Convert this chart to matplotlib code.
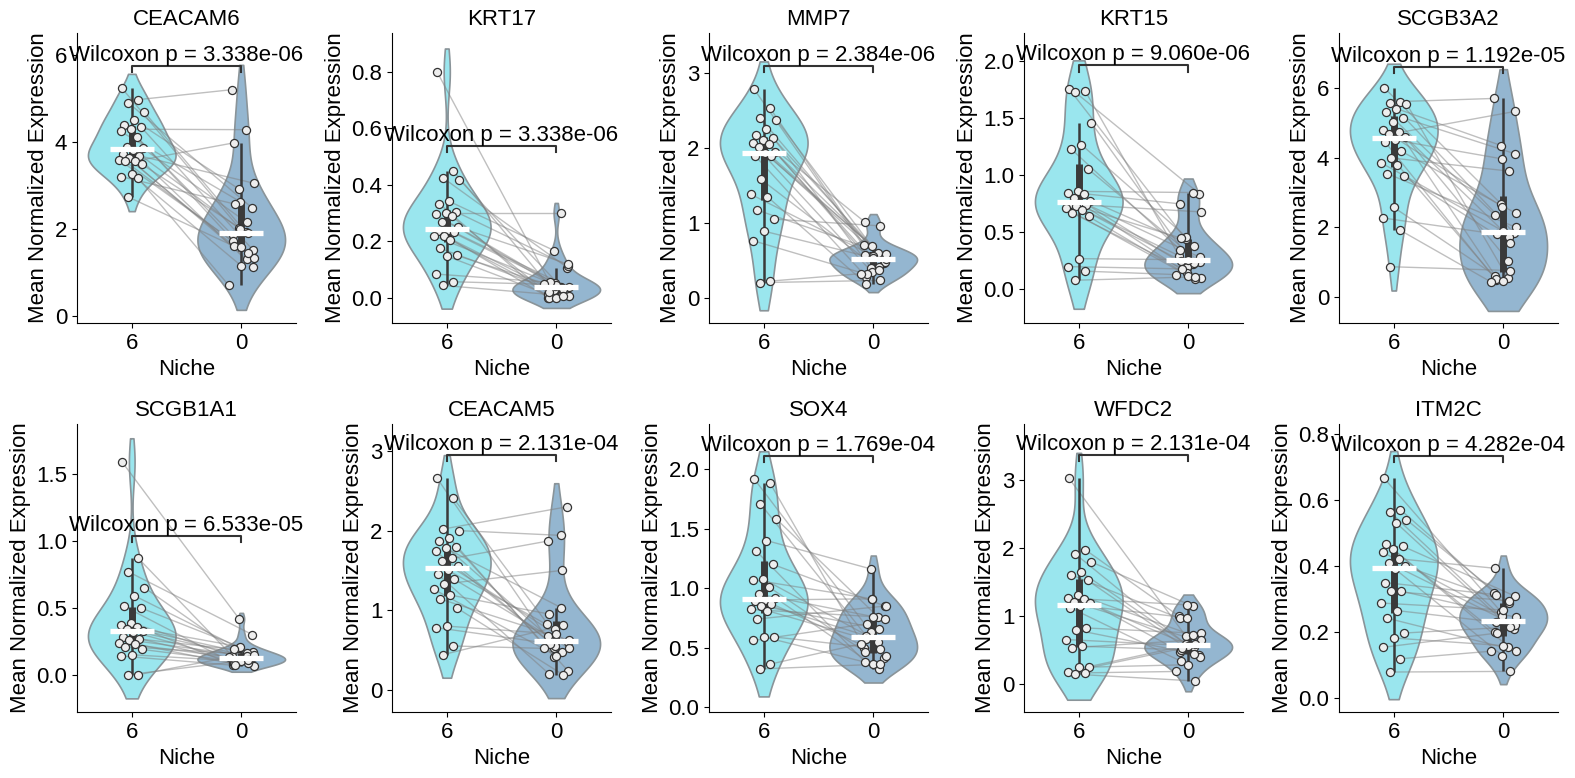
import numpy as np
import matplotlib
matplotlib.use("Agg")
import matplotlib.pyplot as plt
from matplotlib import cbook

plt.rcParams['font.family'] = ['Liberation Sans', 'DejaVu Sans']
plt.rcParams['font.size'] = 16

# ---------------- data ----------------
genes = ["CEACAM6", "KRT17", "MMP7", "KRT15", "SCGB3A2",
         "SCGB1A1", "CEACAM5", "SOX4", "WFDC2", "ITM2C"]
niche_labels = ["6", "0"]
p_labels = ["3.338e-06", "3.338e-06", "2.384e-06", "9.060e-06", "1.192e-05",
            "6.533e-05", "2.131e-04", "1.769e-04", "2.131e-04", "4.282e-04"]

# paired samples: index i in niche-6 array pairs with index i in niche-0 array
ceacam6_n6 = [5.23, 4.97, 4.90, 4.68, 4.50, 4.39, 4.35, 4.29, 4.24, 4.12, 3.89, 3.85,
              3.82, 3.72, 3.68, 3.62, 3.59, 3.56, 3.55, 3.49, 3.26, 3.20, 3.18, 2.74]
ceacam6_n0 = [2.03, 5.20, 2.48, 1.92, 2.91, 1.85, 1.52, 4.28, 2.63, 1.73, 1.13, 2.15,
              1.99, 1.61, 3.05, 1.30, 1.59, 3.98, 1.34, 1.90, 1.15, 2.57, 0.71, 1.45]

krt17_n6 = [0.80, 0.45, 0.424, 0.418, 0.341, 0.333, 0.305, 0.300, 0.296, 0.288, 0.270, 0.250,
            0.240, 0.235, 0.232, 0.220, 0.219, 0.205, 0.175, 0.150, 0.148, 0.084, 0.057, 0.044]
krt17_n0 = [0.027, 0.05, 0.107, 0.04, 0.167, 0.0, 0.114, 0.30, 0.042, 0.015, 0.119, 0.035,
            0.052, 0.0, 0.038, 0.01, 0.045, 0.02, 0.005, 0.03, 0.0, 0.055, 0.048, 0.008]

mmp7_n6 = [2.79, 2.53, 2.40, 2.38, 2.26, 2.18, 2.14, 2.11, 2.07, 2.05, 2.02, 1.95,
           1.93, 1.90, 1.89, 1.58, 1.38, 1.35, 1.17, 1.05, 0.89, 0.76, 0.22, 0.20]
mmp7_n0 = [0.55, 0.70, 0.46, 0.58, 0.39, 1.01, 0.50, 0.60, 0.34, 0.57, 0.48, 0.41,
           0.69, 0.28, 0.52, 0.37, 0.56, 0.18, 0.58, 0.96, 0.53, 0.31, 0.32, 0.23]

krt15_n6 = [1.76, 1.74, 1.73, 1.46, 1.27, 1.23, 1.06, 0.86, 0.85, 0.84, 0.80, 0.78,
            0.76, 0.75, 0.74, 0.73, 0.71, 0.70, 0.67, 0.64, 0.27, 0.20, 0.16, 0.08]
krt15_n0 = [0.44, 0.29, 0.84, 0.22, 0.46, 0.35, 0.24, 0.85, 0.20, 0.75, 0.28, 0.38,
            0.14, 0.45, 0.68, 0.23, 0.12, 0.25, 0.10, 0.09, 0.26, 0.18, 0.13, 0.11]

scgb3a2_n6 = [6.00, 5.60, 5.57, 5.54, 5.40, 5.30, 5.14, 5.02, 4.80, 4.74, 4.66, 4.60,
              4.50, 4.45, 4.18, 3.99, 3.85, 3.80, 3.54, 3.46, 2.58, 2.27, 1.93, 0.88]
scgb3a2_n0 = [2.68, 5.69, 1.84, 0.55, 4.34, 2.36, 4.11, 1.05, 2.60, 0.61, 5.32, 1.74,
              3.96, 0.50, 2.41, 3.61, 1.90, 0.52, 2.00, 1.55, 0.47, 1.81, 0.45, 0.77]

scgb1a1_n6 = [1.59, 0.87, 0.77, 0.65, 0.59, 0.51, 0.50, 0.39, 0.37, 0.36, 0.34, 0.33,
              0.32, 0.28, 0.27, 0.26, 0.24, 0.23, 0.21, 0.19, 0.15, 0.14, 0.00, 0.00]
scgb1a1_n0 = [0.42, 0.14, 0.30, 0.12, 0.20, 0.09, 0.17, 0.11, 0.21, 0.075, 0.13, 0.16,
              0.10, 0.19, 0.065, 0.14, 0.12, 0.08, 0.15, 0.09, 0.10, 0.07, 0.13, 0.11]

ceacam5_n6 = [2.66, 2.41, 2.02, 2.00, 1.91, 1.87, 1.80, 1.78, 1.74, 1.65, 1.62, 1.55,
              1.50, 1.45, 1.39, 1.33, 1.26, 1.19, 1.14, 1.03, 0.80, 0.78, 0.55, 0.44]
ceacam5_n0 = [0.52, 0.83, 2.30, 1.94, 0.41, 0.67, 0.24, 1.03, 0.55, 1.87, 0.60, 0.47,
              0.76, 0.20, 0.52, 1.50, 0.43, 0.95, 0.62, 0.19, 0.70, 0.58, 0.52, 0.81]

sox4_n6 = [1.92, 1.88, 1.71, 1.58, 1.40, 1.31, 1.20, 1.08, 1.07, 1.01, 0.95, 0.92,
           0.90, 0.89, 0.87, 0.85, 0.82, 0.81, 0.74, 0.59, 0.59, 0.56, 0.36, 0.32]
sox4_n0 = [0.63, 0.50, 0.41, 0.76, 1.16, 0.38, 0.85, 0.55, 0.91, 0.46, 0.74, 0.32,
           0.91, 0.60, 0.43, 0.66, 0.76, 0.57, 0.85, 0.49, 0.36, 0.70, 0.53, 0.36]

wfdc2_n6 = [3.02, 1.97, 1.91, 1.79, 1.64, 1.60, 1.52, 1.31, 1.26, 1.24, 1.20, 1.18,
            1.15, 1.12, 0.82, 0.79, 0.65, 0.55, 0.53, 0.25, 0.24, 0.17, 0.16, 0.14]
wfdc2_n0 = [0.70, 0.99, 0.42, 1.14, 0.58, 0.96, 0.39, 0.71, 1.16, 0.47, 0.62, 0.54,
            0.97, 0.33, 0.74, 0.44, 0.56, 0.50, 0.65, 0.59, 0.28, 0.52, 0.18, 0.04]

itm2c_n6 = [0.666, 0.571, 0.563, 0.540, 0.530, 0.467, 0.460, 0.452, 0.442, 0.422, 0.410, 0.400,
            0.391, 0.350, 0.324, 0.323, 0.288, 0.265, 0.242, 0.197, 0.182, 0.154, 0.119, 0.079]
itm2c_n0 = [0.262, 0.319, 0.210, 0.291, 0.238, 0.200, 0.309, 0.156, 0.250, 0.393, 0.220, 0.288,
            0.129, 0.313, 0.245, 0.295, 0.267, 0.230, 0.144, 0.215, 0.159, 0.197, 0.142, 0.081]

values = {
    "CEACAM6": (ceacam6_n6, ceacam6_n0),
    "KRT17": (krt17_n6, krt17_n0),
    "MMP7": (mmp7_n6, mmp7_n0),
    "KRT15": (krt15_n6, krt15_n0),
    "SCGB3A2": (scgb3a2_n6, scgb3a2_n0),
    "SCGB1A1": (scgb1a1_n6, scgb1a1_n0),
    "CEACAM5": (ceacam5_n6, ceacam5_n0),
    "SOX4": (sox4_n6, sox4_n0),
    "WFDC2": (wfdc2_n6, wfdc2_n0),
    "ITM2C": (itm2c_n6, itm2c_n0),
}

# ---------------- layout / style ----------------
y_limits = [(-0.16, 6.5), (-0.089, 0.937), (-0.34, 3.54), (-0.295, 2.25), (-0.73, 7.56),
            (-0.278, 1.873), (-0.28, 3.34), (-0.042, 2.38), (-0.416, 3.82), (-0.042, 0.83)]
bracket_y = [5.75, 0.537, 3.10, 1.965, 6.60, 1.04, 2.945, 2.11, 3.36, 0.734]

fill_colors = ["#9ae6ee", "#94b6d0"]
edge_color = "#8a9499"
box_color = "#3a3a3a"

W, H = 1575, 778
fig = plt.figure(figsize=(W / 100, H / 100), dpi=100)
lefts = [77, 392, 709, 1024, 1339]
rows = [(33, 323), (424, 712)]
ax_w = 219


def kde_curve(vals, cut=1.0, npts=256):
    v = np.asarray(vals, float)
    n = len(v)
    bw = np.std(v, ddof=1) * n ** (-1 / 5)
    grid = np.linspace(v.min() - cut * bw, v.max() + cut * bw, npts)
    dens = np.exp(-0.5 * ((grid[:, None] - v[None, :]) / bw) ** 2).sum(axis=1)
    return grid, dens


for gi, gene in enumerate(genes):
    r, c = divmod(gi, 5)
    top, bot = rows[r]
    ax = fig.add_axes([lefts[c] / W, 1 - bot / H, ax_w / W, (bot - top) / H])
    groups = [np.asarray(g, float) for g in values[gene]]
    n = len(groups[0])

    # violins
    for xi, g in enumerate(groups):
        grid, dens = kde_curve(g)
        w = dens / dens.max() * 0.4
        ax.fill_betweenx(grid, xi - w, xi + w, facecolor=fill_colors[xi],
                         edgecolor=edge_color, linewidth=1.2, zorder=1)

    # jitter positions
    idx = np.arange(n)
    jit = [((idx * 0.6180339887 + 0.13) % 1.0 - 0.5) * 0.24,
           ((idx * 0.7548776662 + 0.41) % 1.0 - 0.5) * 0.24]
    xs = [0 + jit[0], 1 + jit[1]]

    # paired lines
    for i in range(n):
        ax.plot([xs[0][i], xs[1][i]], [groups[0][i], groups[1][i]],
                color="grey", alpha=0.5, lw=1.0, zorder=2)

    # inner box
    for xi, g in enumerate(groups):
        st = cbook.boxplot_stats(g)[0]
        ax.plot([xi, xi], [st["whislo"], st["whishi"]], color=box_color, lw=1.8,
                solid_capstyle="butt", zorder=3)
        ax.plot([xi, xi], [st["q1"], st["q3"]], color=box_color, lw=5,
                solid_capstyle="butt", zorder=3)

    # points
    for xi, g in enumerate(groups):
        ax.scatter(xs[xi], g, s=34, facecolor="#eeeeee", edgecolor="#333333",
                   linewidth=0.9, zorder=4)

    # median lines
    for xi, g in enumerate(groups):
        med = np.median(g)
        ax.plot([xi - 0.2, xi + 0.2], [med, med], color="white", lw=3.8,
                solid_capstyle="butt", zorder=5)

    ax.set_xlim(-0.5, 1.5)
    ax.set_ylim(*y_limits[gi])
    ax.set_xticks([0, 1])
    ax.set_xticklabels(niche_labels)

    # bracket & p-value
    y0, y1 = y_limits[gi]
    h = 0.021 * (y1 - y0)
    yb = bracket_y[gi]
    ax.plot([0, 0, 1, 1], [yb - h, yb, yb, yb - h], color="#333333", lw=1.5,
            zorder=6, clip_on=False)
    ax.text(0.5, yb, f"Wilcoxon p = {p_labels[gi]}", ha="center", va="bottom",
            fontsize=16, zorder=7)

    ax.set_title(gene, fontsize=16)
    ax.set_xlabel("Niche", fontsize=16)
    ax.set_ylabel("Mean Normalized Expression", fontsize=16)
    ax.tick_params(labelsize=16)
    for s in ("top", "right"):
        ax.spines[s].set_visible(False)

fig.savefig("out.png", dpi=100)
